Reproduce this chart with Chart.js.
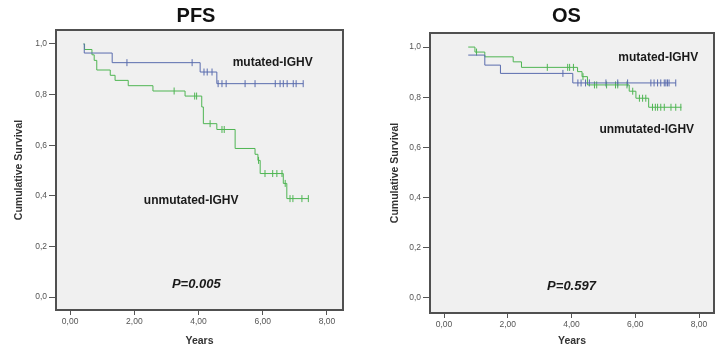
<!DOCTYPE html>
<html>
<head>
<meta charset="utf-8">
<script src="https://cdn.jsdelivr.net/npm/chart.js@4.4.1/dist/chart.umd.min.js"></script>
<style>
  body { margin: 0; background: #fff; }
  #wrap { position: relative; width: 719px; height: 352px; overflow: hidden; }
  #pfs { position: absolute; left: 0; top: 0; }
  #os { position: absolute; left: 360px; top: 0; }
</style>
</head>
<body>
<div id="wrap">
  <canvas id="pfs" width="360" height="352"></canvas>
  <canvas id="os" width="359" height="352"></canvas>
</div>
<script>
// tick labels
const xTicks = [0, 2, 4, 6, 8];
const yTicks = [0, 0.2, 0.4, 0.6, 0.8, 1.0];

// PFS - mutated-IGHV (step points, time / survival) and censored times
const pfsMutX = [0.42, 0.44, 1.31, 4.05, 4.57, 7.26];
const pfsMutY = [1.000, 0.964, 0.926, 0.889, 0.843, 0.843];
const pfsMutCens = [1.77, 3.80, 4.17, 4.27, 4.42, 4.61, 4.73, 4.86, 5.45, 5.76, 6.39, 6.54, 6.64, 6.76, 6.95, 7.04, 7.26];

// PFS - unmutated-IGHV
const pfsUnmX = [0.42, 0.45, 0.68, 0.75, 0.83, 1.25, 1.40, 1.81, 2.58, 3.58, 4.10, 4.15, 4.57, 5.14, 5.76, 5.85, 5.92, 6.64, 6.75, 7.42];
const pfsUnmY = [1.000, 0.978, 0.957, 0.935, 0.897, 0.876, 0.856, 0.835, 0.814, 0.794, 0.751, 0.685, 0.662, 0.587, 0.564, 0.540, 0.488, 0.449, 0.389, 0.389];
const pfsUnmCens = [3.24, 3.88, 3.94, 4.36, 4.73, 4.80, 5.87, 6.07, 6.31, 6.44, 6.60, 6.70, 6.85, 6.94, 7.22, 7.42];

// OS - mutated-IGHV
const osMutX = [0.76, 1.28, 1.77, 4.04, 7.27];
const osMutY = [0.968, 0.928, 0.895, 0.857, 0.857];
const osMutCens = [3.73, 4.20, 4.30, 4.44, 4.56, 5.08, 5.45, 5.76, 6.49, 6.59, 6.70, 6.80, 6.91, 6.96, 7.01, 7.06, 7.27];

// OS - unmutated-IGHV
const osUnmX = [0.76, 0.97, 1.28, 2.17, 2.43, 4.19, 4.33, 4.50, 5.81, 6.02, 6.42, 7.45];
const osUnmY = [1.000, 0.980, 0.961, 0.941, 0.919, 0.902, 0.882, 0.849, 0.824, 0.796, 0.760, 0.760];
const osUnmCens = [1.02, 3.24, 3.88, 3.94, 4.06, 4.36, 4.72, 4.79, 5.10, 5.38, 5.45, 5.74, 5.92, 6.13, 6.23, 6.33, 6.54, 6.63, 6.70, 6.80, 6.91, 7.12, 7.27, 7.43];

const blue = "#5a6cae";
const green = "#4fb553";
const fontFam = 'Arial, "Liberation Sans", sans-serif';

// survival value at time t from the step points
function kmAt(xs, ys, t) {
  let v = ys[0];
  for (let i = 0; i < xs.length; i++) {
    if (xs[i] <= t) v = ys[i];
  }
  return v;
}

function curve(xs, ys, color) {
  return {
    type: "line",
    data: xs.map((x, i) => ({ x: x, y: ys[i] })),
    borderColor: color,
    borderWidth: 1,
    stepped: true,
    pointRadius: 0,
    fill: false,
  };
}

function censors(xs, ys, cens, color) {
  return {
    type: "scatter",
    data: cens.map((t) => ({ x: t, y: kmAt(xs, ys, t) })),
    borderColor: color,
    backgroundColor: color,
    pointStyle: "line",
    rotation: 90,
    pointRadius: 3.5,
    borderWidth: 1,
    showLine: false,
  };
}

const kmDecor = {
  id: "kmDecor",
  beforeDraw(chart, args, opts) {
    const a = chart.chartArea;
    const ctx = chart.ctx;
    ctx.save();
    ctx.fillStyle = "#f0f0f0";
    ctx.fillRect(a.left, a.top, a.right - a.left, a.bottom - a.top);
    ctx.restore();
  },
  afterDraw(chart, args, opts) {
    const a = chart.chartArea;
    const ctx = chart.ctx;
    const xs = chart.scales.x;
    const ys = chart.scales.y;
    ctx.save();
    ctx.strokeStyle = "#505050";
    ctx.lineWidth = 2;
    ctx.strokeRect(a.left, a.top, a.right - a.left, a.bottom - a.top);

    ctx.fillStyle = "#111";
    ctx.textAlign = "center";
    ctx.textBaseline = "middle";
    ctx.font = "bold 20px " + fontFam;
    ctx.fillText(opts.title, opts.titleX, 16);

    opts.labels.forEach((l) => {
      ctx.font = l.font + " " + fontFam;
      ctx.fillStyle = "#1a1a1a";
      ctx.fillText(l.text, xs.getPixelForValue(l.t), ys.getPixelForValue(l.v));
    });
    ctx.restore();
  },
};

function makeChart(id, cfg) {
  const ctx = document.getElementById(id);
  return new Chart(ctx, {
    data: {
      datasets: [
        curve(cfg.mutX, cfg.mutY, blue),
        curve(cfg.unmX, cfg.unmY, green),
        censors(cfg.mutX, cfg.mutY, cfg.mutCens, blue),
        censors(cfg.unmX, cfg.unmY, cfg.unmCens, green),
      ],
    },
    options: {
      responsive: false,
      animation: false,
      layout: { padding: cfg.padding },
      plugins: {
        legend: { display: false },
        tooltip: { enabled: false },
        kmDecor: { title: cfg.title, titleX: cfg.titleX, labels: cfg.labels },
      },
      scales: {
        x: {
          type: "linear",
          min: -0.44,
          max: cfg.xMax,
          afterBuildTicks: (s) => { s.ticks = xTicks.map((v) => ({ value: v })); },
          afterFit: (s) => { s.height = cfg.xHeight; },
          border: { display: false },
          grid: { drawOnChartArea: false, drawTicks: true, tickLength: 5, color: "#555" },
          ticks: {
            padding: 2,
            color: "#555",
            font: { family: fontFam, size: 8.5 },
            maxRotation: 0,
            callback: (v) => v.toFixed(2).replace(".", ","),
          },
          title: {
            display: true,
            text: "Years",
            color: "#333",
            font: { family: fontFam, size: 10.5, weight: "bold" },
            padding: { top: 0, bottom: 5 },
          },
        },
        y: {
          type: "linear",
          min: cfg.yMin,
          max: cfg.yMax,
          afterBuildTicks: (s) => { s.ticks = yTicks.map((v) => ({ value: v })); },
          afterFit: (s) => { s.width = 56; },
          border: { display: false },
          grid: { drawOnChartArea: false, drawTicks: true, tickLength: 7, color: "#555" },
          ticks: {
            padding: 2,
            color: "#555",
            font: { family: fontFam, size: 8.5 },
            callback: (v) => v.toFixed(1).replace(".", ","),
          },
          title: {
            display: true,
            text: "Cumulative Survival",
            color: "#333",
            font: { family: fontFam, size: 10.5, weight: "bold" },
            padding: { top: cfg.yTitlePad, bottom: 0 },
          },
        },
      },
    },
    plugins: [kmDecor],
  });
}

makeChart("pfs", {
  mutX: pfsMutX, mutY: pfsMutY, mutCens: pfsMutCens,
  unmX: pfsUnmX, unmY: pfsUnmY, unmCens: pfsUnmCens,
  title: "PFS", titleX: 196,
  padding: { left: 0, top: 30, right: 17, bottom: 0 },
  xMax: 8.5, xHeight: 42, yMin: -0.051, yMax: 1.055, yTitlePad: 12.5,
  labels: [
    { text: "mutated-IGHV", t: 6.31, v: 0.927, font: "bold 12px" },
    { text: "unmutated-IGHV", t: 3.77, v: 0.38, font: "bold 12px" },
    { text: "P=0.005", t: 3.93, v: 0.051, font: "italic bold 13px" },
  ],
});

makeChart("os", {
  mutX: osMutX, mutY: osMutY, mutCens: osMutCens,
  unmX: osUnmX, unmY: osUnmY, unmCens: osUnmCens,
  title: "OS", titleX: 206.5,
  padding: { left: 14, top: 33, right: 4, bottom: 0 },
  xMax: 8.47, xHeight: 39, yMin: -0.06, yMax: 1.056, yTitlePad: 15,
  labels: [
    { text: "mutated-IGHV", t: 6.72, v: 0.956, font: "bold 12px" },
    { text: "unmutated-IGHV", t: 6.36, v: 0.669, font: "bold 12px" },
    { text: "P=0.597", t: 4.0, v: 0.045, font: "italic bold 13px" },
  ],
});
</script>
</body>
</html>
